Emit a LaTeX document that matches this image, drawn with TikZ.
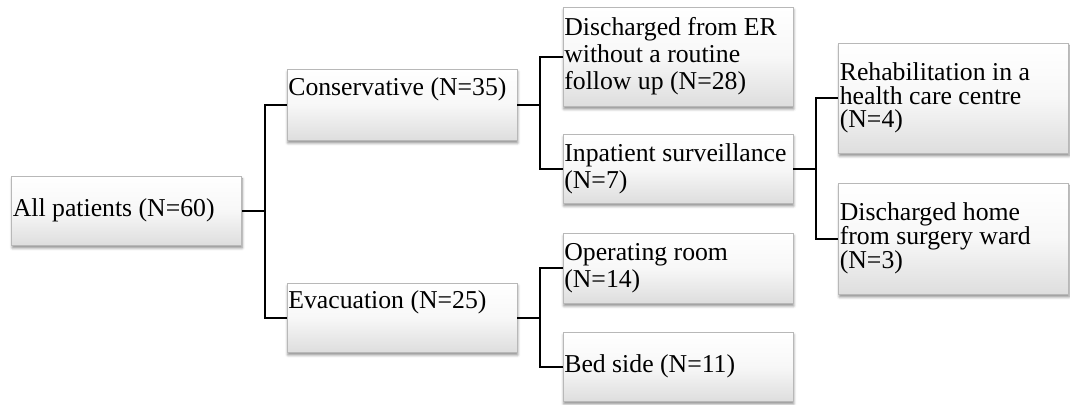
\documentclass[tikz,border=0pt]{standalone}
\usepackage{fontspec}
\setmainfont{Liberation Serif}
\usetikzlibrary{calc,shadows.blur}
\begin{document}
\begin{tikzpicture}[x=0.75pt,y=-0.75pt,
  box/.style={rectangle, draw=black!28, line width=0.6pt,
    top color=white, bottom color=black!13, middle color=black!3,
    blur shadow={shadow xshift=0.6pt, shadow yshift=-2.2pt, shadow blur radius=2pt, shadow opacity=45},
    minimum width=172.5pt, text width=170.5pt, inner xsep=1pt, inner ysep=0pt,
    align=flush left, font=\fontsize{19.3pt}{20.3pt}\selectfont},
  rbox/.style={box, font=\fontsize{19.3pt}{17.8pt}\selectfont},
  conn/.style={draw=black, line width=1.5pt}]
\useasboundingbox (0,0) rectangle (1070,404);
% boxes
\node[box, minimum height=51.75pt] (all) at (126.5,210.5) {All patients (N=60)};
\node[box, minimum height=53.25pt] (cons) at (402,104.5) {Conservative (N=35)\\\strut};
\node[box, minimum height=51.75pt] (evac) at (402,317.5) {Evacuation (N=25)\\\strut};
\node[box, minimum height=74.25pt] (der) at (678,56.5) {Discharged from ER\\without a routine\\follow up (N=28)};
\node[box, minimum height=51.75pt] (inp) at (678,168.5) {Inpatient\ surveillance\\(N=7)};
\node[box, minimum height=52.5pt] (opr) at (678,268) {Operating room\\(N=14)};
\node[box, minimum height=51.75pt] (bed) at (678,366.5) {Bed side (N=11)};
\node[rbox, minimum height=82.5pt] (reh) at (953.5,98) {Rehabilitation in a\\health care centre\\(N=4)};
\node[rbox, minimum height=83.25pt] (dho) at (953.5,238.5) {Discharged home\\from surgery ward\\(N=3)};
% junctions
\coordinate (j1) at ($(all.east)+(23,0)$);
\coordinate (j2) at ($(cons.east)+(23,0)$);
\coordinate (j3) at ($(evac.east)+(23,0)$);
\coordinate (j4) at ($(inp.east)+(23,0)$);
% connectors
\draw[conn] (all.east) -- (j1);
\draw[conn] (cons.west) -| (j1);
\draw[conn] (evac.west) -| (j1);
\draw[conn] (cons.east) -- (j2);
\draw[conn] (der.west) -| (j2);
\draw[conn] (inp.west) -| (j2);
\draw[conn] (evac.east) -- (j3);
\draw[conn] (opr.west) -| (j3);
\draw[conn] (bed.west) -| (j3);
\draw[conn] (inp.east) -- (j4);
\draw[conn] (reh.west) -| (j4);
\draw[conn] (dho.west) -| (j4);
\end{tikzpicture}
\end{document}
